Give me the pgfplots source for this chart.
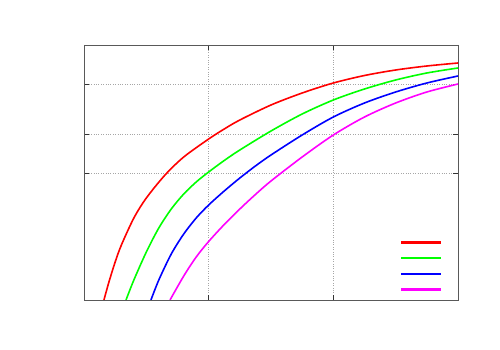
\documentclass[border=0pt]{standalone}
\usepackage{pgfplots}
\pgfplotsset{compat=1.18}
\definecolor{mymagenta}{RGB}{255,0,255}

\begin{document}
\begin{tikzpicture}[x=1pt,y=1pt]
\path[use as bounding box] (0,0) rectangle (500,350);
\begin{axis}[
    at={(84pt,50pt)}, anchor=south west,
    scale only axis,
    width=374pt, height=255pt,
    xmin=0, xmax=3, ymin=0, ymax=255,
    xtick={0,1,2,3}, ytick={127,166,216},
    xticklabels={,,,}, yticklabels={,,},
    tick align=inside, major tick length=5pt,
    tick style={black!80, line width=0.6pt},
    axis line style={gray!70!black, line width=0.8pt},
    grid=major,
    major grid style={dotted, gray!70, line width=0.6pt},
    legend style={at={(axis description cs:0.957,0.036)}, anchor=south east,
        draw=none, fill=none, inner sep=0pt, row sep=13.5pt,
        nodes={inner sep=0pt, minimum height=0pt}},
    legend image code/.code={\fill[#1, draw=none] (0pt,-1.1pt) rectangle (40pt,1.1pt);},
    every axis plot/.append style={line width=1.6pt, smooth},
]
\addplot[red] coordinates {
    (0.16,0) (0.2,18) (0.25,38) (0.3,55) (0.4,82) (0.5,102) (0.65,125)
    (0.8,143) (1.0,161) (1.125,171) (1.25,180) (1.5,195) (1.75,207) (2.0,217)
    (2.25,224.5) (2.5,230) (2.75,234) (3.0,237)
};
\addlegendentry{}
\addplot[green] coordinates {
    (0.337,0) (0.4,20) (0.5,48) (0.6,72) (0.7,91) (0.8,106) (0.9,118)
    (1.0,128) (1.125,139.5) (1.25,150) (1.5,169) (1.75,186) (2.0,200) (2.25,211)
    (2.5,220) (2.75,227) (3.0,232)
};
\addlegendentry{}
\addplot[blue] coordinates {
    (0.537,0) (0.6,20) (0.7,46) (0.8,66) (0.9,82) (1.0,95) (1.125,109)
    (1.25,122) (1.375,134) (1.5,145) (1.75,165) (2.0,183) (2.25,197)
    (2.5,208) (2.75,217) (3.0,224)
};
\addlegendentry{}
\addplot[mymagenta] coordinates {
    (0.69,0) (0.8,24) (0.9,43) (1.0,58.5) (1.125,75.5) (1.25,91) (1.375,105.5)
    (1.5,119) (1.75,143) (2.0,165) (2.25,183) (2.5,197) (2.75,208) (3.0,216)
};
\addlegendentry{}
\end{axis}
\end{tikzpicture}
\end{document}
